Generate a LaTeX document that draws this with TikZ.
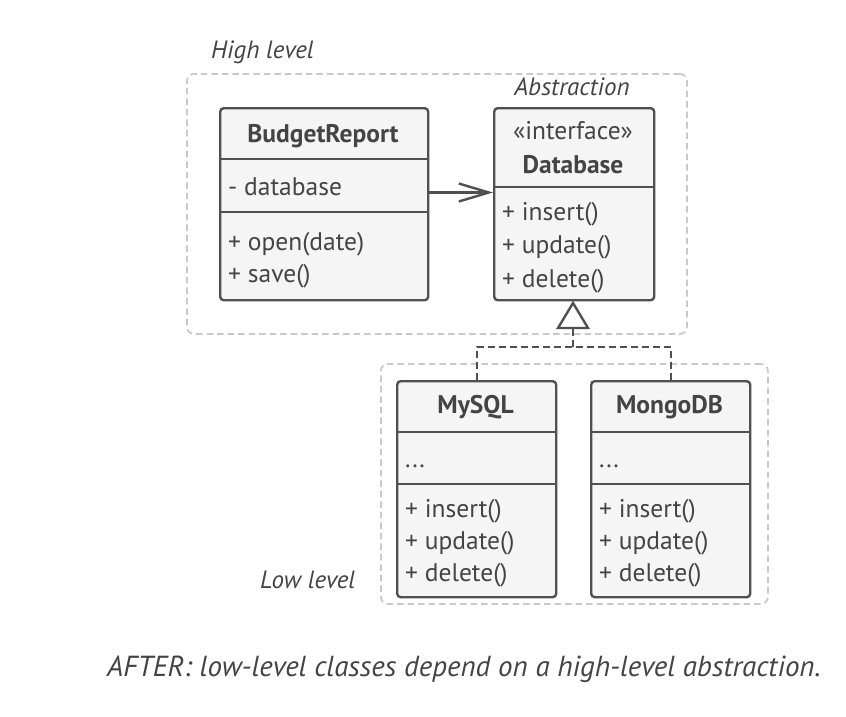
\documentclass[tikz,border=0pt]{standalone}
\usepackage{fontspec}
\setmainfont{PT Sans}
\usetikzlibrary{arrows.meta}
\definecolor{ink}{HTML}{505050}
\definecolor{txt}{HTML}{444444}
\definecolor{boxfill}{HTML}{F5F5F5}
\definecolor{grp}{HTML}{C9C9C9}
\begin{document}
\begin{tikzpicture}[x=1pt,y=-1pt,
  classbox/.style={draw=ink,line width=2.4pt,fill=boxfill,rounded corners=3.5pt,inner sep=0pt,anchor=north west},
  divider/.style={draw=ink,line width=2.4pt},
  group/.style={draw=grp,line width=1.8pt,dash pattern=on 6.5pt off 4pt,rounded corners=7pt,inner sep=0pt,anchor=north west},
  lbl/.style={font=\fontsize{25.5}{30}\selectfont,text=txt,inner sep=0pt,anchor=base west},
  ttl/.style={font=\fontsize{25.5}{30}\selectfont\bfseries,text=txt,inner sep=0pt,anchor=base},
  note/.style={font=\fontsize{25}{30}\selectfont\itshape,text=txt,inner sep=0pt},
  assoc/.style={draw=ink,line width=2.4pt,-{Straight Barb[length=30pt,width=18pt,line width=2.4pt]}},
  real/.style={draw=ink,line width=2.4pt,dash pattern=on 7pt off 4pt},
  tri/.style={draw=ink,line width=2.4pt,fill=white,line join=miter}
]
\useasboundingbox (0,0) rectangle (846,716);

% groups
\node[group,minimum width=500pt,minimum height=260pt] (high) at (186,73) {};
\node[group,minimum width=387pt,minimum height=240pt] (low) at (380,363) {};
\node[note,anchor=base west] (highlbl) at (211,58) {High level};
\node[note,anchor=base west] (lowlbl) at (260,588) {Low level};
\node[note,anchor=base] (abslbl) at (572,95) {Abstraction};

% BudgetReport
\node[classbox,minimum width=208pt,minimum height=192pt] (br) at (219,107) {};
\draw[divider] (219,159) -- (427,159);
\draw[divider] (219,212) -- (427,212);
\node[ttl] (brname) at (323,142) {BudgetReport};
\node[lbl] (brf) at (228,195) {- database};
\node[lbl] (brm1) at (228,250) {+ open(date)};
\node[lbl] (brm2) at (228,282) {+ save()};

% Database
\node[classbox,minimum width=160pt,minimum height=192pt] (db) at (493,107) {};
\draw[divider] (493,187) -- (653,187);
\node[lbl,anchor=base] (dbst) at (573,139) {«interface»};
\node[ttl] (dbname) at (573,173) {Database};
\node[lbl] (dbm1) at (502,220) {+ insert()};
\node[lbl] (dbm2) at (502,253.5) {+ update()};
\node[lbl] (dbm3) at (502,287) {+ delete()};

% MySQL
\node[classbox,minimum width=159pt,minimum height=216pt] (my) at (396,380) {};
\draw[divider] (396,432) -- (555,432);
\node[ttl] (myname) at (475.5,413) {MySQL};
\draw[divider] (396,484) -- (555,484);
\node[lbl] (myf) at (405,467) {...};
\node[lbl] (mym1) at (405,517) {+ insert()};
\node[lbl] (mym2) at (405,549) {+ update()};
\node[lbl] (mym3) at (405,581) {+ delete()};

% MongoDB
\node[classbox,minimum width=159pt,minimum height=216pt] (mg) at (590,380) {};
\draw[divider] (590,432) -- (749,432);
\node[ttl] (mgname) at (669.5,413) {MongoDB};
\draw[divider] (590,484) -- (749,484);
\node[lbl] (mgf) at (599,467) {...};
\node[lbl] (mgm1) at (599,517) {+ insert()};
\node[lbl] (mgm2) at (599,549) {+ update()};
\node[lbl] (mgm3) at (599,581) {+ delete()};

% association
\draw[assoc] (br.east |- brf.mid) -- (db.west |- brf.mid);

% realization
\coordinate (join) at (573,347);
\coordinate (tribase) at (573,328);
\draw[real] (my.north) -- (my.north |- join) -- (mg.north |- join) -- (mg.north);
\draw[real] (join) -- (tribase);
\draw[tri] (573,303) -- (588,328) -- (558,328) -- cycle;

% caption
\node[note,font=\fontsize{29}{34}\selectfont\itshape,anchor=base west] (cap) at (107,676) {AFTER: low-level classes depend on a high-level abstraction.};
\end{tikzpicture}
\end{document}
